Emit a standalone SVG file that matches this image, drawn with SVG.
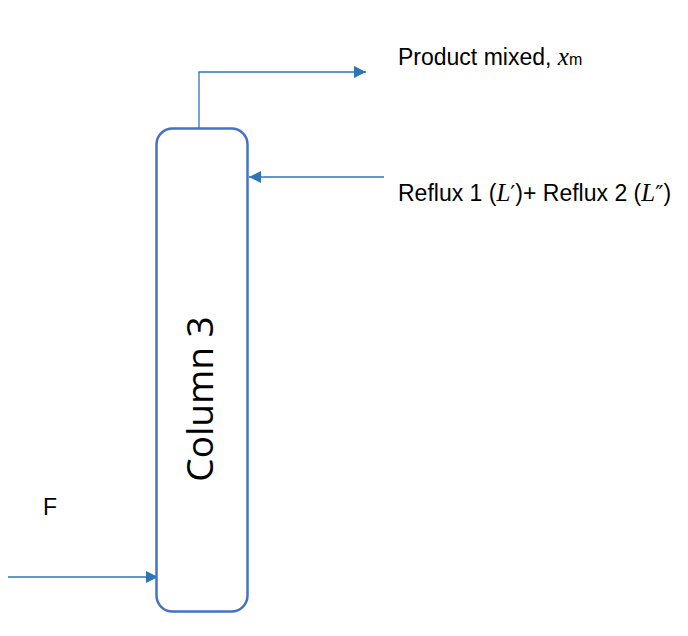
<svg xmlns="http://www.w3.org/2000/svg" width="688" height="636" viewBox="0 0 688 636">
<style>
.lbl{font-family:"Liberation Sans",Arial,sans-serif;font-size:23px;fill:#000}
.math{font-family:"Liberation Serif","DejaVu Serif",serif;font-style:italic;font-size:25px}
.pr{font-family:"DejaVu Sans",sans-serif;font-style:normal;font-size:22px}
.conn{stroke:#2E75B6;stroke-width:1.3;fill:none}
</style>
<defs>
<marker id="ah" viewBox="0 0 10 10" refX="10" refY="5" markerWidth="12" markerHeight="12" markerUnits="userSpaceOnUse" orient="auto">
<path d="M0,0 L10,5 L0,10 z" fill="#2E75B6"/>
</marker>
</defs>
<rect width="688" height="636" fill="#fff"/>
<g id="connectors">
<polyline class="conn" points="199,128 199,72 366,72" marker-end="url(#ah)"/>
<line class="conn" x1="384" y1="177" x2="249" y2="177" marker-end="url(#ah)"/>
<line class="conn" x1="8" y1="577" x2="158" y2="577" marker-end="url(#ah)"/>
</g>
<g id="column3">
<rect x="156.5" y="128.5" width="91" height="483" rx="16" fill="#fff" stroke="#4472C4" stroke-width="2.5"/>
<text transform="translate(213,399) rotate(-90)" text-anchor="middle" font-family="'Open Sans','Noto Sans',sans-serif" font-size="37" fill="#000">Column 3</text>
</g>
<g id="product">
<text class="lbl" x="398" y="65">Product mixed, <tspan class="math">x</tspan><tspan font-size="16">m</tspan></text>
</g>
<g id="reflux">
<text class="lbl" x="398" y="201">Reflux 1 (<tspan class="math">L</tspan><tspan class="pr">′</tspan>)+ Reflux 2 (<tspan class="math">L</tspan><tspan class="pr">″</tspan>)</text>
</g>
<g id="feed">
<text class="lbl" x="43" y="515">F</text>
</g>
</svg>
